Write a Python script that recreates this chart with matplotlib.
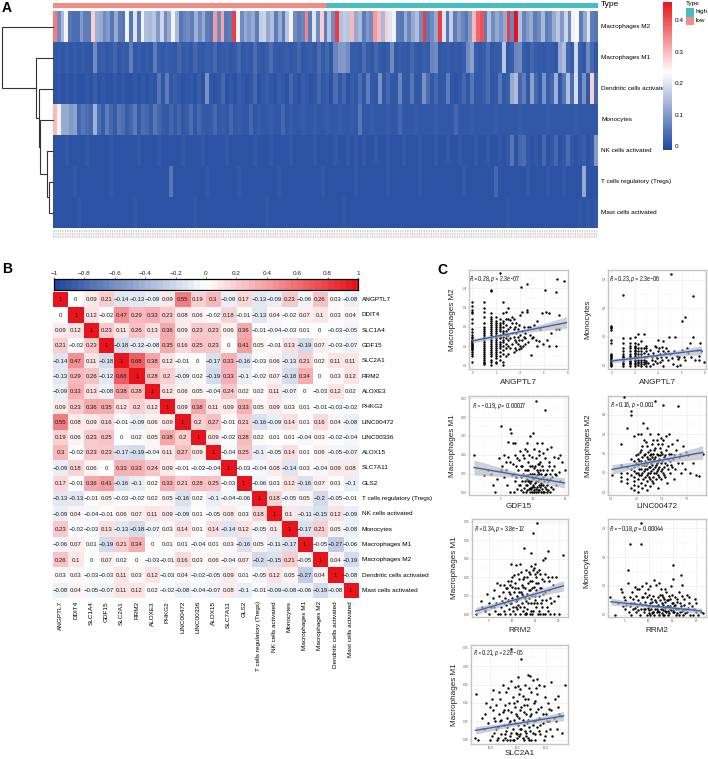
import numpy as np
import matplotlib
matplotlib.use("Agg")
from matplotlib import pyplot as plt
from matplotlib.colors import LinearSegmentedColormap, Normalize
from matplotlib.ticker import AutoMinorLocator

plt.rcParams['font.family'] = ['Liberation Sans', 'DejaVu Sans']
plt.rcParams['mathtext.fontset'] = 'custom'
plt.rcParams['mathtext.it'] = 'Sofia Sans Extra Condensed:italic'
plt.rcParams['mathtext.rm'] = 'Sofia Sans Extra Condensed'

W, H = 708, 759

# ---- panel A data
cell_rows = ["Macrophages M2", "Macrophages M1", "Dendritic cells activated", "Monocytes",
             "NK cells activated", "T cells regulatory (Tregs)", "Mast cells activated"]
low_share = 0.5
m2_row = [.36,.08,.14,.22,.05,.04,.04,.10,.06,.06,.28,.13,.12,.08,.10,.05,.12,.06,.05,.22,.05,.20,.06,.22,.15,
          .14,.16,.10,.18,.08,.12,.22,.14,.05,.07,.08,.06,.13,.08,.12,.06,.05,.33,.08,.32,.05,.06,.42,.22,.08,
          .12,.10,.12,.06,.17,.18,.12,.15,.06,.12,.06,.16,.22,.08,.06,.07,.35,.06,.20,.08,.28,.06,.16,.08,.42,
          .15,.17,.16,.30,.12,.14,.06,.10,.08,.33,.30,.14,.28,.20,.22,.06,.05,.12,.07,.12,.15,.08,.42,.06,.08,
          .12,.42,.20,.05,.17,.06,.10,.07,.05,.10,.30,.38,.40,.06,.15,.08,.12,.09,.12,.42,.07,.46,.15,.07,.10,
          .12,.06,.08,.14,.06,.07,.12,.16,.10,.18,.08,.22,.24,.06,.12,.20,.06,.05]
m1_row = [.01,.015,.01,.02,.01,.015,.01,.015,.01,.01,.08,.015,.02,.01,.015,.03,.01,.02,.015,.06,.01,.02,.01,.015,.01,
          .06,.015,.01,.02,.015,.01,.03,.015,.02,.01,.03,.015,.01,.02,.015,.03,.01,.015,.02,.01,.015,.03,.01,.02,.01,
          .04,.015,.01,.02,.04,.015,.01,.015,.02,.01,.015,.03,.01,.015,.02,.01,.04,.015,.03,.01,.07,.10,.10,.08,.015,
          .015,.01,.04,.015,.01,.03,.015,.01,.02,.08,.01,.02,.015,.01,.03,.015,.01,.02,.015,.07,.08,.01,.015,.02,.01,
          .015,.01,.02,.08,.11,.02,.01,.015,.04,.01,.015,.02,.16,.01,.02,.07,.08,.015,.01,.03,.02,.015,.01,.02,.015,
          .01,.12,.15,.03,.015,.18,.02,.01,.08,.03,.01]
dc_row = [.005,.01,.005,.01,.005,.01,.005,.005,.01,.005,.02,.005,.01,.005,.005,.01,.005,.01,.005,.005,.01,.005,.01,.005,.01,
          .005,.05,.01,.06,.01,.02,.01,.005,.01,.01,.005,.02,.005,.09,.01,.005,.01,.03,.005,.01,.005,.02,.01,.005,.01,
          .03,.005,.01,.02,.01,.005,.02,.01,.005,.03,.01,.005,.02,.01,.005,.01,.03,.01,.02,.005,.04,.01,.03,.005,.02,
          .01,.04,.01,.06,.01,.01,.09,.01,.03,.01,.01,.07,.01,.01,.05,.01,.01,.09,.04,.01,.03,.01,.01,.06,.01,
          .005,.01,.03,.01,.05,.01,.01,.02,.04,.01,.01,.05,.01,.02,.12,.15,.03,.06,.01,.11,.03,.01,.09,.02,.03,
          .13,.01,.05,.15,.04,.19,.02,.09,.01,.28,.03]
mono_row = [.30,.22,.12,.12,.10,.11,.03,.05,.04,.03,.13,.04,.015,.06,.03,.015,.05,.04,.015,.03,.06,.015,.04,.03,.015,
            .05,.03,.015,.01,.03,.015,.03,.01,.015,.04,.01,.03,.015,.01,.015,.03,.01,.015,.01,.03,.01,.015,.01,.01,.03,
            .01,.015,.01,.01,.015,.01,.01,.03,.01,.015,.01,.01,.015,.01,.01,.015,.01,.01,.015,.01,.01,.015,.01,.01,.015,
            .01,.05,.01,.01,.015,.01,.01,.01,.015,.01,.01,.03,.01,.01,.01,.015,.01,.01,.01,.01,.015,.01,.01,.01,.01,
            .03,.01,.01,.01,.015,.01,.01,.01,.01,.01,.015,.01,.01,.01,.01,.01,.015,.01,.01,.01,.01,.01,.01,.015,.01,
            .01,.01,.01,.01,.01,.015,.01,.01,.01,.01,.01]
nk_row = [.005,.005,.005,.012,.005,.005,.005,.005,.012,.005,.005,.005,.005,.005,.012,.005,.005,.005,.005,.005,.005,.012,.005,.005,.005,
          .005,.012,.005,.005,.005,.005,.005,.012,.005,.005,.005,.005,.012,.005,.005,.005,.005,.005,.012,.005,.005,.005,.005,.005,.005,
          .012,.005,.005,.005,.012,.005,.005,.005,.005,.012,.005,.005,.005,.005,.005,.012,.005,.005,.005,.005,.012,.005,.005,.012,.005,
          .012,.005,.012,.005,.005,.012,.005,.005,.012,.005,.005,.005,.012,.005,.005,.005,.012,.005,.005,.005,.012,.005,.005,.012,.005,
          .005,.012,.005,.005,.005,.012,.005,.005,.012,.005,.005,.012,.005,.012,.05,.005,.03,.04,.012,.005,.012,.005,.03,.005,.012,
          .03,.005,.012,.04,.012,.005,.012,.02,.005,.012,.10]
treg_row = [.005,.005,.005,.005,.005,.012,.005,.005,.005,.005,.005,.005,.005,.005,.012,.005,.005,.005,.005,.005,.005,.005,.005,.005,.005,
            .005,.005,.005,.005,.05,.005,.005,.005,.005,.005,.005,.005,.005,.012,.005,.005,.005,.005,.005,.005,.005,.012,.005,.005,.005,
            .005,.005,.005,.005,.005,.005,.012,.005,.005,.005,.005,.005,.005,.005,.005,.005,.005,.012,.005,.005,.005,.005,.005,.005,.005,
            .012,.005,.005,.005,.005,.005,.005,.005,.012,.005,.005,.005,.005,.005,.005,.005,.012,.005,.005,.005,.005,.005,.005,.005,.005,
            .005,.005,.012,.005,.005,.005,.005,.005,.005,.005,.03,.005,.005,.005,.005,.005,.005,.005,.012,.005,.005,.005,.005,.012,.005,
            .005,.005,.012,.005,.005,.005,.005,.12,.005,.005,.005]
mast_row = [.005,.005,.005,.005,.005,.005,.01,.005,.005,.005,.005,.005,.005,.005,.005,.005,.005,.005,.005,.005,.01,.005,.005,.005,.005,
            .005,.005,.005,.005,.005,.005,.005,.005,.005,.005,.01,.005,.005,.005,.005,.005,.005,.005,.005,.005,.005,.005,.005,.005,.005,
            .005,.005,.005,.01,.005,.005,.005,.005,.005,.005,.005,.005,.005,.005,.005,.005,.005,.005,.005,.005,.005,.005,.01,.005,.005,
            .005,.005,.005,.005,.005,.005,.005,.005,.005,.005,.005,.005,.005,.005,.005,.005,.005,.005,.005,.005,.005,.005,.005,.005,.005,
            .005,.005,.005,.005,.005,.005,.005,.005,.005,.005,.005,.005,.005,.01,.005,.005,.005,.005,.005,.005,.005,.005,.005,.005,.005,
            .005,.005,.005,.005,.005,.005,.01,.005,.01,.005,.01]
heat_rows = [m2_row, m1_row, dc_row, mono_row, nk_row, treg_row, mast_row]
heat_ticks = [0, 0.1, 0.2, 0.3, 0.4]

# leaf/leaf-or-node merges, deepest first, with merge distance
dend_merges = [(5, 6, 4.0), (4, "p", 6.3), (3, "p", 13.0), (2, "p", 14.0), (1, "p", 17.0), (0, "p", 51.0)]

# ---- panel B data
corr_names = ["ANGPTL7", "DDIT4", "SLC1A4", "GDF15", "SLC2A1", "RRM2", "ALOXE3", "PHKG2", "LINC00472", "LINC00336",
              "ALOX15", "SLC7A11", "GLS2", "T cells regulatory (Tregs)", "NK cells activated", "Monocytes",
              "Macrophages M1", "Macrophages M2", "Dendritic cells activated", "Mast cells activated"]
corr = [
    [1, 0, 0.09, 0.21, -0.14, -0.13, -0.09, 0.09, 0.55, 0.19, 0.3, -0.09, 0.17, -0.13, -0.09, 0.23, -0.06, 0.26, 0.03, -0.08],
    [0, 1, 0.12, -0.02, 0.47, 0.29, 0.33, 0.23, 0.08, 0.06, -0.02, 0.18, -0.01, -0.13, 0.04, -0.02, 0.07, 0.1, 0.03, 0.04],
    [0.09, 0.12, 1, 0.23, 0.11, 0.26, 0.13, 0.36, 0.09, 0.23, 0.23, 0.06, 0.36, -0.01, -0.04, -0.03, 0.01, 0, -0.03, -0.05],
    [0.21, -0.02, 0.23, 1, -0.18, -0.12, -0.08, 0.35, 0.16, 0.25, 0.23, 0, 0.41, 0.05, -0.01, 0.13, -0.19, 0.07, -0.03, -0.07],
    [-0.14, 0.47, 0.11, -0.18, 1, 0.68, 0.38, 0.12, -0.01, 0, -0.17, 0.33, -0.16, -0.03, 0.06, -0.13, 0.21, 0.02, 0.11, 0.11],
    [-0.13, 0.29, 0.26, -0.12, 0.68, 1, 0.28, 0.2, -0.09, 0.02, -0.19, 0.33, -0.1, -0.02, 0.07, -0.18, 0.34, 0, 0.03, 0.12],
    [-0.09, 0.33, 0.13, -0.08, 0.38, 0.28, 1, 0.12, 0.06, 0.05, -0.04, 0.24, 0.02, 0.02, 0.11, -0.07, 0, -0.03, 0.12, 0.02],
    [0.09, 0.23, 0.36, 0.35, 0.12, 0.2, 0.12, 1, 0.09, 0.38, 0.11, 0.09, 0.33, 0.05, 0.09, 0.03, 0.01, -0.01, -0.03, -0.02],
    [0.55, 0.08, 0.09, 0.16, -0.01, -0.09, 0.06, 0.09, 1, 0.2, 0.27, -0.01, 0.21, -0.16, -0.09, 0.14, 0.01, 0.16, 0.04, -0.08],
    [0.19, 0.06, 0.23, 0.25, 0, 0.02, 0.05, 0.38, 0.2, 1, 0.09, -0.02, 0.28, 0.02, 0.01, 0.01, -0.04, 0.03, -0.02, -0.04],
    [0.3, -0.02, 0.23, 0.23, -0.17, -0.19, -0.04, 0.11, 0.27, 0.09, 1, -0.04, 0.25, -0.1, -0.05, 0.14, 0.01, 0.06, -0.05, -0.07],
    [-0.09, 0.18, 0.06, 0, 0.33, 0.33, 0.24, 0.09, -0.01, -0.02, -0.04, 1, -0.03, -0.04, 0.08, -0.14, 0.03, -0.04, 0.09, 0.08],
    [0.17, -0.01, 0.36, 0.41, -0.16, -0.1, 0.02, 0.33, 0.21, 0.28, 0.25, -0.03, 1, -0.06, 0.03, 0.12, -0.16, 0.07, 0.01, -0.1],
    [-0.13, -0.13, -0.01, 0.05, -0.03, -0.02, 0.02, 0.05, -0.16, 0.02, -0.1, -0.04, -0.06, 1, 0.18, -0.05, 0.05, -0.2, -0.05, -0.01],
    [-0.09, 0.04, -0.04, -0.01, 0.06, 0.07, 0.11, 0.09, -0.09, 0.01, -0.05, 0.08, 0.03, 0.18, 1, 0.1, -0.11, -0.15, 0.12, -0.09],
    [0.23, -0.02, -0.03, 0.13, -0.13, -0.18, -0.07, 0.03, 0.14, 0.01, 0.14, -0.14, 0.12, -0.05, 0.1, 1, -0.17, 0.21, 0.05, -0.08],
    [-0.06, 0.07, 0.01, -0.19, 0.21, 0.34, 0, 0.01, 0.01, -0.04, 0.01, 0.03, -0.16, 0.05, -0.11, -0.17, 1, -0.05, -0.27, -0.06],
    [0.26, 0.1, 0, 0.07, 0.02, 0, -0.03, -0.01, 0.16, 0.03, 0.06, -0.04, 0.07, -0.2, -0.15, 0.21, -0.05, 1, 0.04, -0.19],
    [0.03, 0.03, -0.03, -0.03, 0.11, 0.03, 0.12, -0.03, 0.04, -0.02, -0.05, 0.09, 0.01, -0.05, 0.12, 0.05, -0.27, 0.04, 1, -0.08],
    [-0.08, 0.04, -0.05, -0.07, 0.11, 0.12, 0.02, -0.02, -0.08, -0.04, -0.07, 0.08, -0.1, -0.01, -0.09, -0.08, -0.06, -0.19, -0.08, 1],
]
corr_ticks = [-1, -0.8, -0.6, -0.4, -0.2, 0, 0.2, 0.4, 0.6, 0.8, 1]

# ---- panel C data, (x, y)
angptl_m2 = [(0,y) for y in [.02,.05,.06,.07,.08,.085,.09,.095,.10,.105,.11,.115,.12,.125,.13,.14,.15,.16,.175,.19,.22,.24,.27,.275,.29,.31,.33]] \
    + [(1,y) for y in [.005,.01,.02,.03,.04,.05,.06,.07,.08,.09,.10,.11,.12,.13,.14,.15,.16,.17,.18,.19,.20,.22,.25,.28,.30,.33]] \
    + [(1.58,y) for y in [0,.02,.03,.05,.06,.07,.08,.09,.10,.11,.12,.13,.14,.15,.16,.17,.18,.19,.20,.21,.22,.23,.24,.25,.27,.385,.39]] \
    + [(2,y) for y in [.01,.02,.04,.05,.06,.07,.08,.09,.10,.11,.12,.13,.14,.15,.16,.17,.18,.19,.20,.21,.22,.23,.25]] \
    + [(2.32,y) for y in [.03,.05,.07,.09,.1,.11,.12,.14,.15,.16,.18,.19,.2,.21,.22,.24,.48]] \
    + [(2.58,y) for y in [0,.02,.06,.08,.10,.12,.13,.15,.17,.18,.2,.22,.23,.27,.33]] \
    + [(2.81,y) for y in [.05,.09,.11,.14,.16,.18,.21,.24,.28]] \
    + [(3,.06),(3,.10),(3,.13),(3,.16),(3,.19),(3,.24),(3,.30),(3.17,.09),(3.17,.14),(3.17,.2),(3.17,.235),(3.32,.11),
       (3.32,.17),(3.32,.22),(3.32,.25),(3.46,.07),(3.46,.15),(3.46,.19),(3.46,.24),(3.58,.09),(3.58,.13),(3.58,.2),
       (3.7,.08),(3.7,.12),(3.7,.17),(3.7,.22),(3.81,.11),(3.81,.15),(3.81,.19),(3.91,.085),(3.91,.13),(3.91,.21),
       (4,.1),(4,.16),(4,.26),(4.1,.41),(4.1,.09),(4.17,.13),(4.17,.18),(4.17,.28),(4.25,.1),(4.32,.15),(4.32,.2),
       (4.39,.11),(4.46,.17),(4.46,.14),(4.58,.29),(4.58,.28),(4.58,.425),(4.64,.2),(4.64,.12),(4.81,.16),(4.81,.2),
       (4.91,.055),(5,.14),(5.09,.15),(5.17,.21),(5.32,.13),(5.46,.1),(5.46,.23),(5.58,.125),(5.7,.19),(5.81,.27),
       (5.91,.11),(6.07,.39),(6.17,.28),(6.25,.13),(6.46,.27),(6.46,.1),(6.6,.17),(7.05,.38),(7.05,.1),(7.0,.19),
       (7.1,.45),(7.3,.26),(7.3,.19),(7.66,.44)]
angptl_mono = [(0,y) for y in [0,.003,.006,.01,.013,.016,.02,.023,.026,.03,.033,.036,.04,.08,.09,.125,.13,.135,.14]] \
    + [(1,y) for y in [0,.005,.01,.015,.02,.025,.03,.035,.04,.05,.06,.08,.095,.246]] \
    + [(1.58,y) for y in [0,.004,.008,.012,.016,.02,.025,.03,.035,.04,.05,.06,.07,.08,.095]] \
    + [(2,y) for y in [0,.005,.01,.015,.02,.025,.03,.035,.04,.045,.05,.055,.06,.065,.07,.08,.1]] \
    + [(2.32,y) for y in [.002,.008,.014,.02,.03,.04,.05,.06,.075,.11]] \
    + [(2.58,y) for y in [0,.006,.012,.02,.03,.04,.05,.06,.085]] \
    + [(2.81,y) for y in [.004,.012,.02,.03,.045,.06,.112]] \
    + [(3,0),(3,.008),(3,.016),(3,.03),(3,.05),(3,.06),(3,.07),(3.17,.01),(3.17,.04),(3.32,0),(3.32,.055),(3.46,.02),
       (3.46,.03),(3.58,.005),(3.58,.045),(3.7,.015),(3.7,.07),(3.81,.035),(3.81,.065),(3.91,.025),(3.91,.01),(4,.05),
       (4,.09),(4.09,.06),(4.17,.012),(4.17,.04),(4.25,.03),(4.32,.066),(4.32,.02),(4.39,.05),(4.46,0),(4.46,.085),
       (4.58,.045),(4.64,.03),(4.7,.06),(4.81,.018),(4.81,.05),(5.08,.32),(4.91,.1),(5.0,.04),(5.17,.025),(5.25,.006),
       (5.32,.05),(5.46,.1),(5.58,.035),(5.64,0),(5.7,.022),(5.81,.03),(5.91,.002),(6.07,.156),(6.0,.055),(6.17,.03),
       (6.3,.17),(6.32,.02),(6.46,.06),(6.58,.045),(6.7,.08),(6.81,.03),(7,.244),(7.0,.1),(7.17,.02),(7.32,.055),
       (7.46,.035),(7.6,.08),(7.7,.05),(7.9,.012),(7.5,.02)]
gdf_m1 = [(0.9,.10),(3,.06),(2.5,.045),(3.6,.05),(3.8,.02),(4.2,0),(4.5,.035),(4.8,.09),(5,.176),(5.2,.07),(5,.06),(5.5,.1),
          (5.6,.04),(6,.02),(5.8,.06),(6.4,.169),(6.6,.157),(6.2,.135),(6.9,.13),(7.2,.13),(7.5,.09),(6.4,.08),(6.9,.075),
          (6.5,0),(7,.05),(7.2,.03),(7.1,0),(7.6,.01),(7.7,.06),(7.9,.085),(8,.02),(8.2,.04),(8.3,.07),(8.4,0),(8.5,.05),
          (8.6,.09),(8.8,.03),(8.9,0),(9,.06),(9.1,.02),(9.2,.08),(9.3,.045),(9.4,.01),(9.5,.07),(9.6,0),(9.7,.03),(9.8,.095),
          (9.9,.05),(10,.157),(10,.02),(10.1,.065),(10.2,0),(10.3,.04),(10.4,.09),(10.5,.244),(10.5,.01),(10.6,.06),(10.7,.03),
          (10.8,0),(10.9,.075),(11,.05),(11,.10),(11.1,.015),(11.2,0),(11.3,.035),(11.4,.07),(11.5,.02),(11.6,.105),(11.7,0),
          (11.8,.045),(11.9,.218),(12,.01),(12.1,.06),(12.2,0),(12.3,.03),(12.5,.08),(12.6,.05),(12.8,.015),(13,.04),(13.2,.095),
          (13.3,.07),(13.5,.02),(13.8,.09),(14,.055),(14.2,.03),(14.5,.08),(14.9,.06),(9,.13),(8,.11),(10.9,.11),(11.4,.13),
          (9.6,.15),(9.2,.03),(9.7,.01),(10.1,.005),(10.6,.015),(11,.005),(11.3,.02),(10.3,.025),(9.5,.025),(8.9,.045),(9.9,.07),
          (10.7,.075),(11.1,.06),(11.6,.04),(12.2,.035),
          (7.4,.04),(7.8,.02),(8.1,.005),(8.3,.03),(8.6,.012),(8.7,.06),(8.9,.02),(9,.035),(9.1,.005),(9.3,.06),(9.4,.03),(9.5,.012),
          (9.6,.05),(9.8,.04),(9.8,.015),(9.9,0),(10,.035),(10.1,.05),(10.2,.015),(10.3,.07),(10.4,0),(10.5,.03),(10.6,.045),
          (10.7,.005),(10.8,.055),(10.9,.02),(11,.035),(11.1,.08),(11.2,.025),(11.3,.05),(11.4,.01),(11.5,.06),(11.6,0),(11.7,.03),
          (11.8,.015),(11.9,.09),(12,.05),(12.1,.02),(12.3,.005),(12.4,.07),(12.6,0),(12.7,.035),(12.9,.06),(13.1,.01),(13.4,.05),
          (8.1,.07),(8.7,.115),(7.3,.1),(8.5,.1),(6.1,.095),(5.9,.08),(7.4,.07),(6.7,.045),(9,.11),(9.4,.1),(10.2,.115),(10.6,.13),
          (12.2,.115),(12.8,.12),(13.6,.045),(14.2,.1)]
linc_m2 = [(0.05,.09),(1,.25),(1,.14),(1,.1),(1,.08),(1,.06),(1.6,.33),(1.3,.49),(1.9,.42),(1.9,.4),(1.6,.13),(1.6,.1),(1.6,.07),
           (1.6,.05),(1.9,.17),(1.9,.12),(1.9,.09),(1.9,.02),(2.2,.29),(2.2,.16),(2.2,.13),(2.2,.11),(2.2,.08),(2.2,.06),(2.2,.04),
           (2.2,.01),(2.6,.3),(2.6,.2),(2.6,.17),(2.6,.14),(2.6,.1),(2.6,.07),(2.6,.03),(2.6,0),(2.9,.3),(2.9,.22),(2.9,.16),(2.9,.12),
           (2.9,.09),(2.9,.05),(3,.02),(3.1,.36),(3.2,.27),(3.2,.19),(3.2,.14),(3.2,.11),(3.3,.08),(3.3,.04),(3.5,.33),(3.5,.24),
           (3.5,.18),(3.5,.15),(3.5,.12),(3.5,.09),(3.5,.06),(3.5,.01),(3.8,.3),(3.8,.22),(3.8,.19),(3.8,.17),(3.8,.13),(3.8,.1),
           (3.8,.07),(3.8,.03),(4.1,.27),(4.1,.2),(4.1,.16),(4.1,.12),(4.1,.08),(4.1,.05),(4.3,.47),(4.3,.23),(4.3,.18),(4.4,.14),
           (4.4,.1),(4.4,.07),(4.6,.3),(4.6,.25),(4.6,.19),(4.6,.16),(4.6,.12),(4.6,.09),(4.6,.02),(4.9,.28),(4.9,.21),(4.9,.15),
           (4.9,.11),(4.9,.07),(5.1,.45),(5.1,.27),(5.2,.18),(5.2,.13),(5.2,.09),(5.4,.29),(5.4,.22),(5.5,.14),(5.5,.05),(5.7,.3),
           (5.7,.2),(5.8,.16),(5.8,.1),(6,.25),(6,.13),(6.2,.19),(6.2,.07),(6.5,.27),(6.6,.445),(6.6,.15),(6.8,.2),(6.9,.1),(7.1,.24),
           (7.3,.12),(7.6,.19),(7.8,.1),(8.1,.15),(8.4,.09),(8.7,.085),(9.1,.2),
           (2.4,.15),(2.4,.1),(2.4,.19),(2.7,.12),(2.7,.16),(2.7,.09),(2.8,.21),(3,.14),(3,.18),(3,.1),(3,.24),(3.1,.07),(3.3,.16),
           (3.3,.2),(3.3,.12),(3.4,.14),(3.4,.26),(3.6,.1),(3.6,.17),(3.6,.21),(3.7,.13),(3.7,.08),(3.9,.15),(3.9,.2),(3.9,.11),(4,.18),
           (4,.25),(4,.14),(4,.06),(4.2,.22),(4.2,.1),(4.2,.17),(4.3,.13),(4.5,.2),(4.5,.15),(4.5,.11),(4.5,.27),(4.7,.17),(4.7,.13),
           (4.7,.08),(4.8,.23),(4.8,.19),(5,.12),(5,.16),(5,.2),(5,.25),(5.1,.1),(5.3,.15),(5.3,.19),(5.3,.08),(5.6,.17),(5.6,.12),
           (5.6,.24),(5.9,.2),(5.9,.14),(6.1,.17),(6.3,.12),(6.4,.22),(6.7,.18),(7,.15),(7.4,.21)]
rrm_m1 = [(2.1,0),(3.3,.035),(3.4,.02),(4,.012),(4.2,.01),(4.6,.055),(4.9,.03),(5,0),(5.3,.02),(5.8,.045),(6,.065),(6.3,.01),(6.5,.03),
          (6.7,.085),(7,0),(7.2,.05),(7.3,.08),(7.6,.02),(7.8,.035),(8,.06),(8.2,.01),(8.4,.045),(8.5,0),(8.7,.025),(8.9,.07),(9,.09),
          (9.1,.04),(9.3,.015),(9.4,.055),(9.6,0),(9.8,.03),(9.9,.075),(10,.045),(10.2,.02),(10.3,.06),(10.4,.105),(10.5,0),(10.6,.085),
          (10.7,.035),(10.9,.05),(11,.015),(11.2,.07),(11.3,.025),(11.4,.095),(11.5,.045),(11.6,0),(11.8,.06),(11.9,.115),(12,.03),
          (12.1,.08),(12.2,.01),(12.4,.05),(12.6,.1),(12.7,0),(12.8,.07),(12.9,.035),(13,.12),(13.1,.055),(13.2,.015),(13.3,.085),
          (13.5,.045),(13.7,.11),(13.8,0),(13.9,.065),(14,.03),(14.1,.13),(14.2,.09),(14.3,.05),(14.4,.12),(14.5,.01),(14.6,.075),
          (14.7,.125),(14.8,.04),(15,.1),(15,.02),(15.2,.065),(15.3,.115),(15.5,0),(15.6,.085),(15.8,.05),(16,.11),(16.1,.03),(16.2,.07),
          (16.5,.04),(16.6,0),(16.8,.09),(17,.06),(17.4,.02),(17.6,.1),(17.8,.065),(18.2,.045),(18.5,.1),(18.7,.08),(18.9,0),(19,.035),
          (19.4,.1),(19.8,.05),(20,0),(15.4,.245),(14.5,.22),(12.6,.178),(14.1,.166),(11.7,.137),(9.7,.135),(10.8,.133),(14.8,.135),
          (16.6,.146),(17.1,.152),(17.6,.17),(21,.16),
          (8.1,.03),(8.6,.07),(9.2,.06),(9.5,.03),(9.7,.09),(10.1,.01),(10.5,.07),(10.8,.02),(11.1,.04),(11.4,.06),(11.7,.02),(12,.055),
          (12.3,.075),(12.5,.02),(12.7,.045),(13,.005),(13.2,.1),(13.4,.03),(13.6,.065),(13.8,.09),(14.1,.01),(14.3,.07),(14.6,.03),
          (14.9,.05),(15.1,.085),(15.4,.03),(15.7,.01),(15.9,.07),(16.3,.095),(16.4,.02),(16.7,.055),(17.1,.11),(17.3,.04),(17.7,.01),
          (18,.09),(18.4,.03),(12.2,.095),(11.2,.11),(10,.1),(9.4,.08),(13.5,.115),(14.9,.11),(15.8,.12),(6.1,.02),(7.4,0),(8.3,.08),
          (17,0),(18.1,0),(16,0),(14.2,0),(13,0)]
rrm_mono = [(1.9,.06),(3,0),(3.5,.04),(4.2,.09),(4.5,.08),(4.6,.03),(5,.05),(5,.02),(5.6,.157),(5.6,.11),(5.8,.01),(6,.245),(6,.06),
            (6,.03),(6.4,0),(6.5,.08),(6.8,.02),(7,.04),(7.1,.095),(7.3,.065),(7.4,.01),(7.6,.03),(7.8,.05),(8,.09),(8.2,0),(8.3,.32),
            (8.4,.02),(8.5,.245),(8.6,.06),(8.8,.035),(9,.01),(9.2,.045),(9.5,.11),(9.6,0),(9.8,.025),(10,.07),(10,.015),(10.2,.04),
            (10.4,.055),(10.6,.005),(10.8,.03),(11,.065),(11.1,.12),(11.2,0),(11.4,.02),(11.5,.105),(11.6,.045),(11.8,.01),(12,.06),
            (12,.03),(12.2,0),(12.4,.05),(12.5,.09),(12.6,.02),(12.8,.07),(13,0),(13,.035),(13.2,.055),(13.4,.012),(13.6,.08),(13.8,.03),
            (14,0),(14,.05),(14.2,.065),(14.4,.02),(14.6,.1),(14.8,.04),(15,.125),(15,.008),(15.2,.172),(15.3,.03),(15.5,.06),(15.7,0),
            (15.8,.02),(16,.045),(16.3,.08),(16.5,.01),(16.7,.137),(16.8,.03),(17,.105),(17.2,0),(17.4,.055),(17.6,.02),(18,.07),(18,.01),
            (18.4,.04),(18.7,0),(19,.03),(19.5,.02),(19.8,.055),(20,.01),(20.4,0),(21,.01),(21.3,.005),(9,.02),(10,.005),(11,.01),(12,.012),
            (13,.018),(14,.012),(15,.018),(16,.005),(17,.012),(12.9,.005),(10.5,.02),(11.5,.03),(13.5,.045),(14.5,.03),
            (9.2,.02),(9.5,.035),(9.7,.06),(10.1,.03),(10.3,0),(10.7,.045),(10.9,.01),(11.2,.03),(11.3,.05),(11.7,.02),(11.9,.035),(12.1,.01),
            (12.3,.07),(12.7,.04),(12.9,.025),(13.1,.06),(13.3,0),(13.5,.025),(13.7,.01),(13.9,.05),(14.1,.03),(14.3,.005),(14.5,.055),
            (14.7,.015),(14.9,.07),(15.1,.04),(15.4,.01),(15.6,.035),(15.9,.055),(16.1,.02),(16.4,0),(16.6,.04),(16.9,.065),(17.1,.015),
            (17.3,.035),(17.7,.005),(18.2,.025),(18.5,.06),(19.2,0),(20,.04),(5.2,.035),(6.3,.04),(7.2,.025),(7.7,.015),(8.1,.04),(8.9,.06),
            (9.3,.075),(6.7,.055),(4.8,.06),(7.5,.09),(8.7,.1),(9.9,.09),(10.3,.1),(12.2,.11),(13.4,.09)]
slc_m1 = [(8.7,.125),(8.65,.006),(8.9,0),(9.2,.06),(9.4,.03),(9.6,.1),(9.8,.045),(10,.09),(10,0),(10.2,.134),(10.2,.08),(10.3,.02),(10.4,.05),
          (10.5,.095),(10.6,0),(10.7,.035),(10.8,.07),(10.9,.11),(11,.015),(11,.055),(11.1,0),(11.2,.08),(11.2,.04),(11.3,.095),(11.4,.025),
          (11.4,.13),(11.5,.06),(11.5,0),(11.6,.14),(11.7,.045),(11.7,.1),(11.8,.01),(11.9,.075),(11.9,.246),(12.8,.22),(12,.03),(12,.115),
          (12.1,.055),(12.1,0),(12.2,.09),(12.2,.144),(12.3,.02),(12.4,.065),(12.4,.105),(12.5,.04),(12.5,.145),(13.4,.177),(12.6,.01),(12.7,.08),
          (13.6,.172),(12.7,.137),(12.8,.03),(12.9,.12),(12.9,.055),(13.8,.163),(13,0),(13,.095),(13.1,.025),(13.2,.07),(14.2,.166),(13.3,.045),
          (13.4,.11),(13.4,.005),(13.5,.035),(13.6,.085),(13.6,.065),(13.7,.13),(13.8,.02),(13.9,.05),(14,.105),(14,0),(14.1,.075),(14.2,.035),
          (14.2,.125),(14.4,.06),(14.4,.15),(14.5,.015),(14.6,.09),(14.7,.045),(14.8,0),(14.9,.115),(15,.07),(15,.025),(15.2,.1),(15.3,.05),
          (15.45,.156),(15.5,.08),(15.6,.01),(15.7,.06),(15.8,.11),(16,.03),(16.1,.09),(16.2,.07),(16.4,.065),(16.5,.02),(16.7,.15),(16.1,.12),
          (11.3,.005),(11.8,0),(12.4,.005),(12.7,.015),(13.2,.01),(13.7,0),
          (10.1,.01),(10.3,.06),(10.5,.03),(10.7,.005),(10.9,.05),(11.1,.075),(11.3,.015),(11.5,.035),(11.6,.08),(11.8,.05),(11.9,.02),(12,0),
          (12.1,.1),(12.2,.045),(12.3,.07),(12.4,.015),(12.6,.06),(12.6,.125),(12.7,.03),(12.8,.09),(12.9,.005),(13,.075),(13,.04),(13.1,.11),
          (13.2,.02),(13.3,.095),(13.4,.055),(13.5,0),(13.6,.025),(13.7,.07),(13.8,.04),(13.9,.1),(14,.015),(14.1,.055),(14.3,.085),(14.4,.025),
          (14.5,.04),(14.7,.07),(14.9,.01),(15.1,.05),(15.3,.085),(15.4,.03),(15.9,.05),(9.5,.07),(10.1,.11),(10.8,.13),(11.1,.15),(11.9,.16),
          (12.5,.17),(13.1,.15),(13.5,.14),(14.8,.145),(14.1,.14)]

# xname, yname, pixel box, xlabel y, ylabel x, limits, ticks, points, line x, line y, band half width left/mid/right, note, note xy
panels = [
    ("ANGPTL7", "Macrophages M2", (469, 270, 568, 369), 382, 452, (-0.28, 8.03), (-0.019, 0.496), [0, 2, 4, 6, 8], [0, .1, .2, .3, .4],
     angptl_m2, (0, 7.9), (.127, .222), (.012, .007, .03), "$\\mathit{R}$ = 0.28, $\\mathit{p}$ = 2.3e−07", (469, 279)),
    ("ANGPTL7", "Monocytes", (608, 270, 706, 369), 382, 588, (-0.28, 8.09), (-0.012, 0.334), [0, 2, 4, 6, 8], [0, .1, .2, .3],
     angptl_mono, (0, 7.7), (.016, .054), (.008, .005, .016), "$\\mathit{R}$ = 0.23, $\\mathit{p}$ = 2.3e−06", (609, 279)),
    ("GDF15", "Macrophages M1", (469, 396, 568, 495), 506, 453, (0.13, 15.4), (-0.007, 0.256), [5, 10, 15], [0, .05, .1, .15, .2, .25],
     gdf_m1, (0.9, 14.85), (.066, .025), (.02, .006, .014), "$\\mathit{R}$ = −0.19, $\\mathit{p}$ = 0.00017", (472, 406)),
    ("LINC00472", "Macrophages M2", (608, 396, 706, 495), 506, 589, (-0.33, 9.37), (-0.014, 0.497), [0, 2.5, 5, 7.5], [0, .1, .2, .3, .4],
     linc_m2, (0.07, 9.05), (.118, .206), (.025, .009, .035), "$\\mathit{R}$ = 0.16, $\\mathit{p}$ = 0.001", (610, 405)),
    ("RRM2", "Macrophages M1", (472, 519, 568, 617), 630, 455, (1.3, 22), (-0.007, 0.257), [5, 10, 15, 20], [0, .05, .1, .15, .2, .25],
     rrm_m1, (2.1, 21), (.009, .077), (.01, .005, .014), "$\\mathit{R}$ = 0.34, $\\mathit{p}$ = 3.8e−12", (474, 529)),
    ("RRM2", "Monocytes", (608, 519, 706, 617), 630, 587, (1.5, 22), (-0.008, 0.333), [5, 10, 15, 20], [0, .1, .2, .3],
     rrm_mono, (2.1, 21), (.045, .013), (.012, .005, .01), "$\\mathit{R}$ = −0.18, $\\mathit{p}$ = 0.00044", (609, 529)),
    ("SLC2A1", "Macrophages M1", (471, 645, 568, 744), 753.5, 455, (8.25, 17), (-0.011, 0.257), [10, 12.5, 15], [0, .05, .1, .15, .2, .25],
     slc_m1, (8.65, 16.6), (.026, .065), (.01, .005, .012), "$\\mathit{R}$ = 0.21, $\\mathit{p}$ = 2.2e−05", (473, 653)),
]

fig = plt.figure(figsize=(W / 100, H / 100), dpi=100, facecolor="white")


def axes_px(x0, y0, x1, y1):
    return fig.add_axes([x0 / W, 1 - y1 / H, (x1 - x0) / W, (y1 - y0) / H])


def text_px(x, y, s, **kw):
    kw.setdefault("va", "center")
    return fig.text(x / W, 1 - y / H, s, **kw)


def bare(ax):
    ax.set_xticks([])
    ax.set_yticks([])
    for s in ax.spines.values():
        s.set_visible(False)


BLUE, RED = "#1F499E", "#E8141C"
heat_vmin, heat_vmax = -0.011, 0.46
white_at = (0.235 - heat_vmin) / (heat_vmax - heat_vmin)
heat_cmap = LinearSegmentedColormap.from_list("heat", [(0, BLUE), (white_at, "white"), (1, RED)])
heat_norm = Normalize(heat_vmin, heat_vmax)
corr_cmap = LinearSegmentedColormap.from_list("corr", [BLUE, "white", RED])

# panel letters
for x, y, s in [(2, 8, "A"), (2, 269, "B"), (437, 270, "C")]:
    text_px(x, y, s, fontsize=10, fontweight="bold", ha="left")

# annotation bar
ax = axes_px(53, 3, 598, 8)
bare(ax)
ax.set_xlim(0, 1)
ax.set_ylim(0, 1)
ax.barh(0.5, low_share, height=1, left=0, color="#F48C86")
ax.barh(0.5, 1 - low_share, height=1, left=low_share, color="#45BDC2")
text_px(601, 5, "Type", fontsize=6, ha="left")

# heatmap rows
ax = axes_px(53, 11, 598, 228)
bare(ax)
for i, row in enumerate(heat_rows):
    ax.imshow([row], extent=(0, 1, i + 1, i), aspect="auto", cmap=heat_cmap, norm=heat_norm,
              interpolation="nearest")
ax.set_xlim(0, 1)
ax.set_ylim(len(heat_rows), 0)
row_h = 217 / len(cell_rows)
for i, name in enumerate(cell_rows):
    text_px(601, 11 + (i + 0.5) * row_h, name, fontsize=4.6, ha="left", zorder=-1)

# dendrogram
ax = axes_px(2, 11, 53, 228)
bare(ax)
ax.patch.set_alpha(0)
ax.set_xlim(51, 0)
ax.set_ylim(len(cell_rows), 0)
prev_y, prev_h = None, 0
for a, b, d in dend_merges:
    if b == "p":
        y_a, h_a, y_b, h_b = a + 0.5, 0, prev_y, prev_h
    else:
        y_a, h_a, y_b, h_b = a + 0.5, 0, b + 0.5, 0
    ax.plot([h_a, d, d, h_b], [y_a, y_a, y_b, y_b], color="#333333", lw=0.8, solid_joinstyle="miter", clip_on=False)
    prev_y, prev_h = (y_a + y_b) / 2, d

# sample label strip under the heatmap
ax = axes_px(53, 230, 598, 238)
bare(ax)
ax.set_xlim(0, 1)
ax.set_ylim(0, 3)
for yy in [0.5, 1.5, 2.5]:
    ax.plot([0, 1], [yy, yy], color="#cfcfcf", lw=1.7, ls=(0, (0.5, 0.5)))

# heat colour bar
ax = axes_px(663, 2, 672, 150)
bare(ax)
ax.imshow(np.linspace(heat_vmax, heat_vmin, 120)[:, None], extent=(0, 1, heat_vmin, heat_vmax), aspect="auto",
          cmap=heat_cmap, norm=heat_norm)
for t in heat_ticks:
    y_pos = 2 + (heat_vmax - t) / (heat_vmax - heat_vmin) * 148
    text_px(675, y_pos, "%g" % t, fontsize=4.6, ha="left")

# type legend
text_px(686, 4, "Type", fontsize=4.6, ha="left")
ax = axes_px(686, 8, 694, 25)
bare(ax)
ax.set_xlim(0, 1)
ax.set_ylim(2, 0)
ax.barh([0.5, 1.5], [1, 1], height=1, color=["#45BDC2", "#F48C86"])
text_px(696, 12, "high", fontsize=4.6, ha="left")
text_px(696, 21, "low", fontsize=4.6, ha="left")

# correlation matrix
n = len(corr_names)
corr_arr = np.array(corr)
ax = axes_px(53, 292, 358, 598)
bare(ax)
ax.imshow(corr_arr, cmap=corr_cmap, vmin=-1, vmax=1, extent=(0, n, n, 0), aspect="auto", interpolation="nearest")
for i in range(n):
    for j in range(n):
        label = ("%g" % corr_arr[i, j]).replace("-", "−")
        ax.text(j + 0.5, i + 0.52, label, ha="center", va="center", fontsize=4.3, color="#1a1a1a")
cell_h = 306 / n
cell_w = 305 / n
for i, name in enumerate(corr_names):
    text_px(362, 292 + (i + 0.5) * cell_h, name, fontsize=4.6, ha="left")
    text_px(53 + (i + 0.5) * cell_w, 601, name, fontsize=4.6, ha="center", va="top", rotation=90)

# correlation colour bar
ax = axes_px(54, 279, 358, 290)
ax.imshow(np.linspace(-1, 1, 50)[None, :], extent=(-1, 1, 0, 1), aspect="auto", cmap=corr_cmap, vmin=-1, vmax=1)
ax.set_yticks([])
ax.xaxis.tick_top()
ax.set_xticks(corr_ticks)
ax.set_xticklabels([("%g" % t).replace("-", "−") for t in corr_ticks])
ax.tick_params(axis="x", length=1.5, width=0.4, pad=0.8, labelsize=4.6, labelcolor="#222222", color="#222222")
for s in ax.spines.values():
    s.set_linewidth(0.9)

# scatter panels
for xname, yname, box, xlab_y, ylab_x, xlim, ylim, xticks, yticks, pts, line_x, line_y, band, note, note_xy in panels:
    ax = axes_px(*box)
    ax.set_xlim(*xlim)
    ax.set_ylim(*ylim)
    ax.set_xticks(xticks)
    ax.set_yticks(yticks)
    ax.xaxis.set_minor_locator(AutoMinorLocator(2))
    ax.yaxis.set_minor_locator(AutoMinorLocator(2))
    ax.grid(True, which="major", color="#e8e8e8", lw=0.4)
    ax.grid(True, which="minor", color="#f2f2f2", lw=0.3)
    ax.set_axisbelow(True)
    ax.tick_params(which="major", length=1, width=0.3, color="#888888", labelsize=2.2, labelcolor="#555555", pad=0.4)
    ax.tick_params(which="minor", length=0)
    for s in ax.spines.values():
        s.set_color("#c4c4c4")
        s.set_linewidth(1.0)
    xy = np.array(pts, dtype=float)
    ax.scatter(xy[:, 0], xy[:, 1], s=3.0, color="black", linewidths=0, zorder=3)
    lx = [line_x[0], (line_x[0] + line_x[1]) / 2, line_x[1]]
    ly = [line_y[0], (line_y[0] + line_y[1]) / 2, line_y[1]]
    ax.fill_between(lx, np.array(ly) - band, np.array(ly) + band, color="#bdbdbd", alpha=0.7, lw=0, zorder=4)
    ax.plot(line_x, line_y, color="#3366BB", lw=1.0, zorder=5)
    text_px((box[0] + box[2]) / 2, xlab_y, xname, fontsize=5.9, ha="center", color="#222222")
    text_px(ylab_x, (box[1] + box[3]) / 2, yname, fontsize=5.9, ha="center", rotation=90, color="#222222")
    text_px(note_xy[0], note_xy[1], note, fontsize=6.2, ha="left", family=["Sofia Sans Extra Condensed", "Liberation Sans"],
            color="#222222", zorder=6)

fig.savefig("out.png", dpi=100)
